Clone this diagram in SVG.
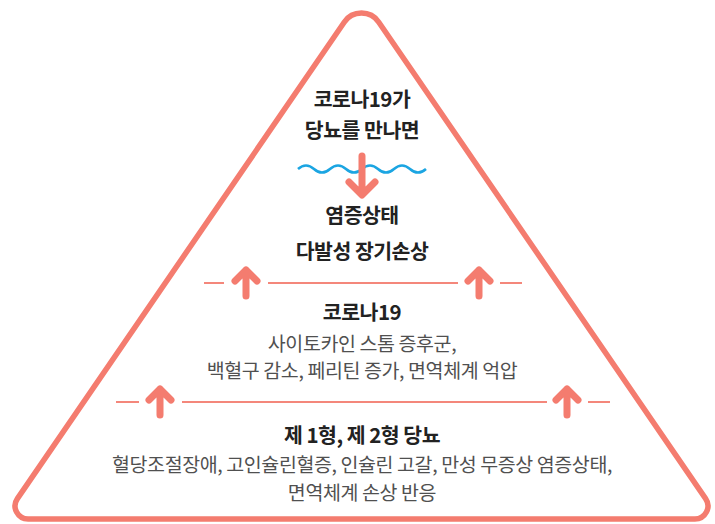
<svg xmlns="http://www.w3.org/2000/svg" width="715" height="524" viewBox="0 0 715 524">
<style>
.tri{fill:none;stroke:#f47c6f;stroke-width:5.5;stroke-linejoin:round}
.sep{stroke:#f4877b;stroke-width:2;fill:none}
.arr{stroke:#f47c6f;stroke-width:7;stroke-linecap:round;stroke-linejoin:round;fill:none}
.wave{stroke:#1ba5e2;stroke-width:2.6;fill:none}
text{font-family:"Noto Sans CJK KR","Noto Sans",sans-serif;text-anchor:middle}
.b{font-size:20.5px;font-weight:700;fill:#222;letter-spacing:-0.5px}
.r{font-size:19.5px;font-weight:400;fill:#505050;letter-spacing:-0.4px}
</style>
<defs>
<path id="up" class="arr" d="M0 13 V-13 M-11 -2 L0 -13 L11 -2"/>
</defs>
<g id="triangle">
<path class="tri" d="M344.2 22.2 L17.4 498.6 A13 13 0 0 0 28.1 519 L694.9 519 A13 13 0 0 0 705.6 498.6 L378.8 22.2 A21 21 0 0 0 344.2 22.2 Z"/>
</g>
<g id="connectors">
<path class="wave" d="M298 169 q8 -7 16 0 t16 0 t16 0 t16 0 t16 0 t16 0 t16 0 t16 0"/>
<path class="arr" d="M362 156 V194 M349 182 L362 195 L375 182"/>
<path class="sep" d="M204 283 H224 M268 283 H458 M500 283 H522"/>
<use href="#up" x="246" y="283"/>
<use href="#up" x="479" y="283"/>
<path class="sep" d="M116 402 H139 M182 402 H547 M588 402 H610"/>
<use href="#up" x="160" y="402"/>
<use href="#up" x="567" y="402"/>
</g>
<g id="node-top">
<text class="b" x="362" y="107">코로나19가</text>
<text class="b" x="362" y="138">당뇨를 만나면</text>
</g>
<g id="node-inflammation">
<text class="b" x="362" y="223">염증상태</text>
<text class="b" x="362" y="259">다발성 장기손상</text>
</g>
<g id="node-covid">
<text class="b" x="362" y="320">코로나19</text>
<text class="r" x="362" y="351">사이토카인 스톰 증후군,</text>
<text class="r" x="362" y="378">백혈구 감소, 페리틴 증가, 면역체계 억압</text>
</g>
<g id="node-diabetes">
<text class="b" x="362" y="443">제 1형, 제 2형 당뇨</text>
<text class="r" x="362" y="472">혈당조절장애, 고인슐린혈증, 인슐린 고갈, 만성 무증상 염증상태,</text>
<text class="r" x="362" y="500">면역체계 손상 반응</text>
</g>
</svg>
